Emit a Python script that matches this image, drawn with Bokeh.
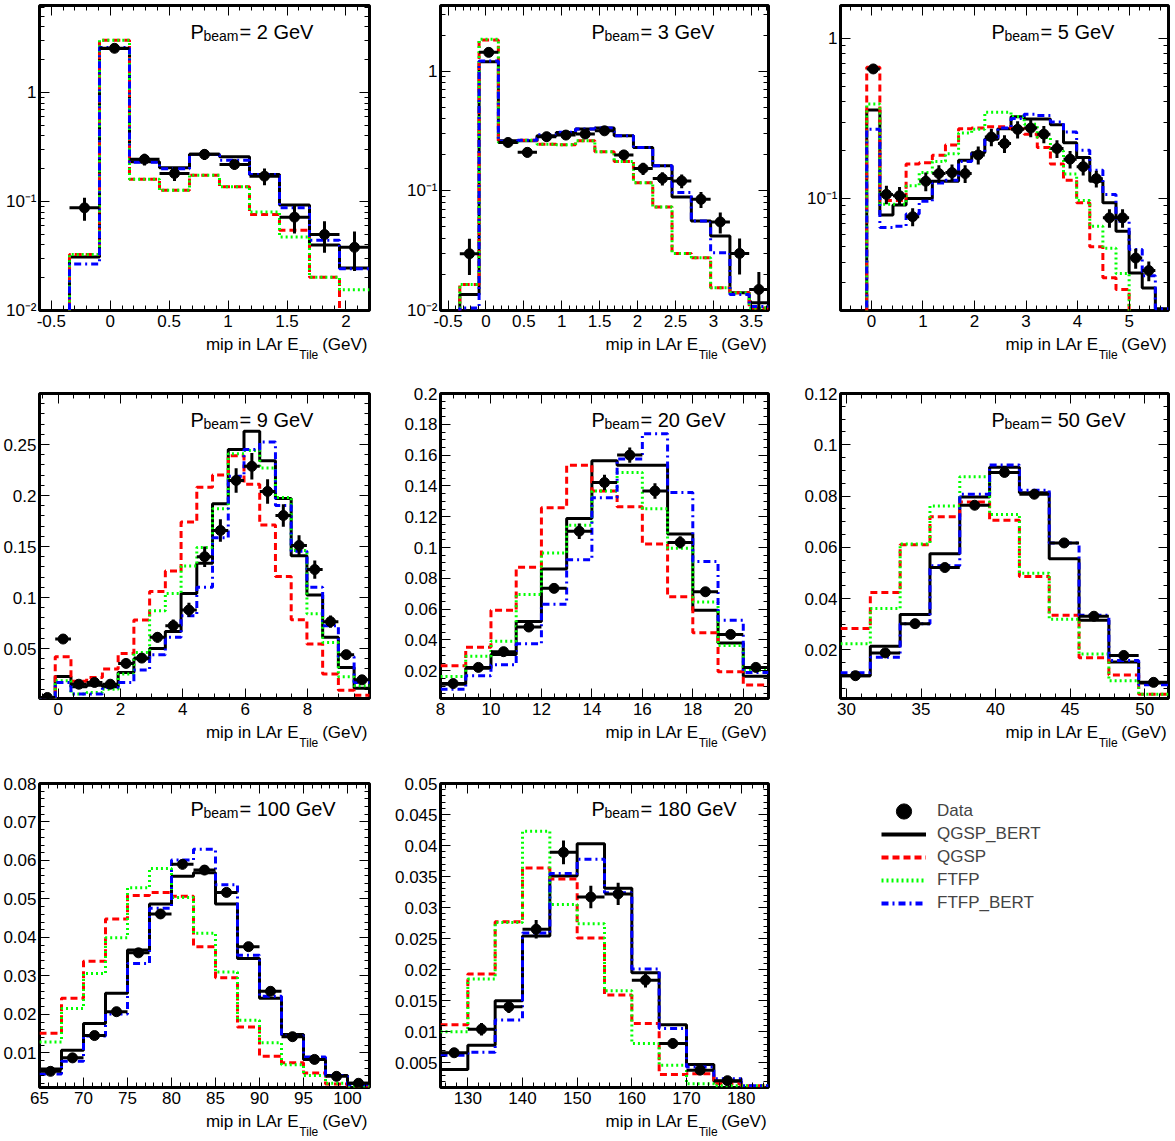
from bokeh.plotting import figure
from bokeh.layouts import gridplot
from bokeh.models import (Range1d, SingleIntervalTicker, FixedTicker, LinearAxis, LogAxis,
                          Label, Legend, LegendItem, CustomJSTickFormatter)
from bokeh.embed import file_html
from bokeh.resources import INLINE

FONT = "Liberation Sans"

# ---------------- data ----------------
BEAMS = ["2", "3", "5", "9", "20", "50", "100", "180"]
# histogram binning: first edge, bin width (number of bins = length of the series)
BIN_LO = [-0.6, -0.6, -0.6, -0.6, 8.0, 29.6, 65.0, 125.0]
BIN_W = [0.25454, 0.25454, 0.25454, 0.5048, 1.0, 2.0, 2.5, 5.0]
X_RANGE = [(-0.6, 2.2), (-0.6, 3.727), (-0.6, 5.764), (-0.6, 9.99),
           (8, 21), (29.6, 51.6), (65, 102.5), (125, 185)]
Y_RANGE = [(0.01, 6.3), (0.01, 3.55), (0.02, 1.6), (0.001, 0.3),
           (0.002, 0.2), (0.001, 0.12), (0.001, 0.08), (0.001, 0.05)]
Y_LOG = [True, True, True, False, False, False, False, False]
X_TITLE = ["mip in LAr E", "Tile", "(GeV)"]
LOG_TICKS = [1.0, 0.1, 0.01]
LOG_TICK_LABELS = ["1", "10\u207b\u00b9", "10\u207b\u00b2"]

# 2 GeV
QGSP_BERT_2 = [0, 0.031, 2.54, 0.232, 0.204, 0.271, 0.258, 0.177, 0.093, 0.040, 0.0245]
QGSP_2 = [0, 0.0326, 3.03, 0.16, 0.127, 0.174, 0.137, 0.076, 0.0546, 0.0202, 0]
FTFP_2 = [0, 0.0326, 3.03, 0.16, 0.127, 0.174, 0.137, 0.080, 0.0473, 0.0202, 0.0155]
FTFP_BERT_2 = [0, 0.0267, 2.6, 0.23, 0.2, 0.27, 0.239, 0.177, 0.0875, 0.0442, 0.0242]
DATA_2 = [None, 0.0875, 2.55, 0.244, 0.181, 0.271, 0.219, 0.171, 0.0719, 0.0498, 0.038]
ERR_2 = [None, 0.021, 0.06, 0.03, 0.027, 0.03, 0.022, 0.03, 0.021, 0.016, 0.015]

# 3 GeV
QGSP_BERT_3 = [0, 0.0136, 1.2, 0.263, 0.263, 0.289, 0.308, 0.329, 0.335, 0.289, 0.231,
               0.162, 0.0891, 0.0561, 0.042, 0.0141, 0.0116]
QGSP_3 = [0, 0.0165, 1.83, 0.254, 0.265, 0.246, 0.243, 0.263, 0.212, 0.176, 0.117,
          0.0734, 0.030, 0.0276, 0.0155, 0.0141, 0.0105]
FTFP_3 = [0, 0.0165, 1.85, 0.254, 0.265, 0.246, 0.243, 0.263, 0.212, 0.176, 0.117,
          0.0734, 0.030, 0.0276, 0.0155, 0.0141, 0.0105]
FTFP_BERT_3 = [0, 0.0105, 1.22, 0.26, 0.265, 0.295, 0.31, 0.33, 0.335, 0.289, 0.231,
               0.162, 0.097, 0.0561, 0.0304, 0.0136, 0.0108]
DATA_3 = [None, 0.0298, 1.44, 0.254, 0.21, 0.284, 0.293, 0.299, 0.318, 0.2, 0.154,
          0.127, 0.121, 0.085, 0.055, 0.030, 0.015]
ERR_3 = [None, 0.01, 0.06, 0.02, 0.02, 0.025, 0.025, 0.025, 0.025, 0.02, 0.018,
         0.016, 0.016, 0.013, 0.011, 0.01, 0.006]

# 5 GeV
QGSP_BERT_5 = [0, 0, 0.356, 0.079, 0.091, 0.10, 0.10, 0.128, 0.128, 0.173, 0.193, 0.234,
               0.272, 0.324, 0.313, 0.313, 0.288, 0.223, 0.18, 0.128, 0.094, 0.0625,
               0.0343, 0.0276, 0.0205]
QGSP_5 = [0, 0, 0.66, 0.097, 0.097, 0.164, 0.167, 0.186, 0.216, 0.272, 0.275, 0.28,
          0.28, 0.272, 0.252, 0.208, 0.164, 0.13, 0.094, 0.05, 0.032, 0.027, 0, 0, 0]
FTFP_5 = [0, 0, 0.388, 0.092, 0.092, 0.12, 0.145, 0.17, 0.19, 0.256, 0.27, 0.345,
          0.345, 0.325, 0.29, 0.24, 0.198, 0.142, 0.097, 0.067, 0.049, 0.034, 0, 0, 0]
FTFP_BERT_5 = [0, 0, 0.27, 0.066, 0.067, 0.08, 0.096, 0.125, 0.13, 0.17, 0.19, 0.24,
               0.275, 0.315, 0.335, 0.33, 0.30, 0.26, 0.20, 0.15, 0.106, 0.072, 0.048,
               0.033, 0.0205]
DATA_5 = [None, None, 0.643, 0.106, 0.104, 0.077, 0.128, 0.143, 0.145, 0.143, 0.187,
          0.242, 0.22, 0.27, 0.275, 0.252, 0.205, 0.176, 0.158, 0.133, 0.0757, 0.0757,
          0.0425, 0.0355, None]
ERR_5 = [None, None, 0.02, 0.014, 0.014, 0.01, 0.017, 0.018, 0.018, 0.018, 0.024, 0.03,
         0.028, 0.033, 0.034, 0.031, 0.026, 0.022, 0.019, 0.016, 0.01, 0.01, 0.006, 0.005,
         None]

# 9 GeV
QGSP_BERT_9 = [0, 0.0226, 0.0125, 0.014, 0.0125, 0.0265, 0.040, 0.050, 0.0668, 0.104,
               0.1336, 0.192, 0.245, 0.263, 0.234, 0.197, 0.141, 0.1025, 0.061, 0.0315,
               0.011]
QGSP_9 = [0, 0.042, 0.018, 0.0216, 0.0298, 0.045, 0.078, 0.106, 0.126, 0.174, 0.208,
          0.220, 0.239, 0.211, 0.171, 0.1205, 0.0783, 0.0544, 0.025, 0.0092, 0.0043]
FTFP_9 = [0, 0.0184, 0.0053, 0.0069, 0.010, 0.025, 0.046, 0.087, 0.104, 0.131, 0.149,
          0.187, 0.241, 0.244, 0.227, 0.198, 0.146, 0.084, 0.056, 0.0223, 0.0134]
FTFP_BERT_9 = [0, 0.0167, 0.0053, 0.0053, 0.0118, 0.0167, 0.029, 0.044, 0.061, 0.0822,
               0.110, 0.1585, 0.219, 0.245, 0.2525, 0.1903, 0.1454, 0.110, 0.0724, 0.042,
               0.0167]
DATA_9 = [0.002, 0.0593, 0.015, 0.0167, 0.015, 0.0354, 0.0406, 0.061, 0.0724, 0.0878,
          0.140, 0.1657, 0.2148, 0.2286, 0.204, 0.1804, 0.151, 0.1274, 0.0763, 0.044,
          0.0193]
ERR_9 = [0.001, 0.004, 0.003, 0.003, 0.003, 0.004, 0.004, 0.005, 0.006, 0.007, 0.01,
         0.011, 0.012, 0.013, 0.012, 0.011, 0.01, 0.009, 0.006, 0.004, 0.003]

# 20 GeV
QGSP_BERT_20 = [0.0113, 0.0217, 0.0305, 0.052, 0.086, 0.1188, 0.1564, 0.1535, 0.1535,
                0.1088, 0.0593, 0.0381, 0.0165]
QGSP_20 = [0.0233, 0.0353, 0.0593, 0.0872, 0.1258, 0.1535, 0.1367, 0.1265, 0.1023,
           0.068, 0.0447, 0.0193, 0.0108]
FTFP_20 = [0.0163, 0.0294, 0.0392, 0.0695, 0.0964, 0.1145, 0.1367, 0.1487, 0.1252,
           0.0996, 0.0647, 0.0364, 0.0204]
FTFP_BERT_20 = [0.008, 0.0167, 0.0239, 0.0375, 0.0632, 0.092, 0.1324, 0.1575, 0.1738,
                0.1357, 0.0909, 0.0528, 0.0189]
DATA_20 = [0.0117, 0.0222, 0.0324, 0.0484, 0.0735, 0.1106, 0.1422, 0.160, 0.1367,
           0.1033, 0.0713, 0.0436, 0.0222]
ERR_20 = [0.002, 0.002, 0.003, 0.003, 0.003, 0.005, 0.005, 0.005, 0.005, 0.004, 0.003,
          0.002, 0.002]

# 50 GeV
QGSP_BERT_50 = [0.0099, 0.0214, 0.0338, 0.0575, 0.0796, 0.0912, 0.0813, 0.0555, 0.0315,
                0.0152, 0.0070]
QGSP_50 = [0.0283, 0.0424, 0.061, 0.0719, 0.0777, 0.0705, 0.0486, 0.0335, 0.0169,
           0.0102, 0.0027]
FTFP_50 = [0.0224, 0.0361, 0.0613, 0.0761, 0.0875, 0.0728, 0.0499, 0.0319, 0.0184,
           0.0079, 0.0027]
FTFP_BERT_50 = [0.011, 0.0171, 0.0302, 0.0528, 0.0807, 0.0921, 0.0823, 0.0617, 0.0335,
                0.0158, 0.0064]
DATA_50 = [0.0099, 0.0188, 0.0302, 0.0521, 0.0764, 0.0892, 0.0807, 0.0617, 0.0331,
           0.0178, 0.0073]
ERR_50 = [0.0006, 0.0008, 0.001, 0.001, 0.0012, 0.0012, 0.0012, 0.001, 0.0008, 0.0006,
          0.0005]

# 100 GeV
QGSP_BERT_100 = [0.0058, 0.0107, 0.0176, 0.0255, 0.0367, 0.0487, 0.0559, 0.0568, 0.0487,
                 0.0345, 0.0242, 0.0148, 0.0083, 0.0041, 0.0021]
QGSP_100 = [0.0151, 0.0242, 0.0338, 0.0448, 0.0509, 0.0517, 0.0507, 0.0376, 0.0295,
            0.0167, 0.0091, 0.0074, 0.0048, 0.0019, 0.0013]
FTFP_100 = [0.0128, 0.0215, 0.0306, 0.0399, 0.0529, 0.0579, 0.0504, 0.0411, 0.031,
            0.0185, 0.0126, 0.0069, 0.0041, 0.0021, 0.0013]
FTFP_BERT_100 = [0.0045, 0.0078, 0.0144, 0.0201, 0.0332, 0.0476, 0.0601, 0.0629, 0.0537,
                 0.0354, 0.0247, 0.0144, 0.0089, 0.0041, 0.0017]
DATA_100 = [0.0052, 0.0087, 0.0145, 0.0207, 0.036, 0.0461, 0.059, 0.0575, 0.0517, 0.0376,
            0.026, 0.0142, 0.0083, 0.0039, 0.0021]
ERR_100 = [0.0005, 0.0006, 0.0008, 0.0009, 0.0011, 0.0012, 0.0013, 0.0013, 0.0012,
           0.0011, 0.0009, 0.0007, 0.0005, 0.0004, 0.0003]

# 180 GeV
QGSP_BERT_180 = [0.0039, 0.0078, 0.015, 0.0254, 0.0351, 0.0403, 0.0331, 0.0195, 0.0111,
                 0.0047, 0.0020, 0]
QGSP_180 = [0.0111, 0.0193, 0.0277, 0.0364, 0.0346, 0.0251, 0.0159, 0.0113, 0.0031,
            0.0032, 0.0016, 0.0013]
FTFP_180 = [0.010, 0.0185, 0.0276, 0.0423, 0.0305, 0.0274, 0.0166, 0.0081, 0.0046,
            0.0016, 0.0013, 0.0013]
FTFP_BERT_180 = [0.0062, 0.0067, 0.0119, 0.0259, 0.0355, 0.0378, 0.0324, 0.0201, 0.0105,
                 0.0043, 0.0024, 0.0013]
DATA_180 = [0.0066, 0.0104, 0.014, 0.0265, 0.0389, 0.0317, 0.0322, 0.0183, 0.0081,
            0.0038, 0.0021, None]
ERR_180 = [0.0006, 0.001, 0.001, 0.0015, 0.0019, 0.0018, 0.0018, 0.0012, 0.0008, 0.0005,
           0.0004, None]

QGSP_BERT = [QGSP_BERT_2, QGSP_BERT_3, QGSP_BERT_5, QGSP_BERT_9, QGSP_BERT_20,
             QGSP_BERT_50, QGSP_BERT_100, QGSP_BERT_180]
QGSP = [QGSP_2, QGSP_3, QGSP_5, QGSP_9, QGSP_20, QGSP_50, QGSP_100, QGSP_180]
FTFP = [FTFP_2, FTFP_3, FTFP_5, FTFP_9, FTFP_20, FTFP_50, FTFP_100, FTFP_180]
FTFP_BERT = [FTFP_BERT_2, FTFP_BERT_3, FTFP_BERT_5, FTFP_BERT_9, FTFP_BERT_20,
             FTFP_BERT_50, FTFP_BERT_100, FTFP_BERT_180]
DATA = [DATA_2, DATA_3, DATA_5, DATA_9, DATA_20, DATA_50, DATA_100, DATA_180]
ERR = [ERR_2, ERR_3, ERR_5, ERR_9, ERR_20, ERR_50, ERR_100, ERR_180]

# tick intervals (major, minor subdivisions)
X_TICK = [(0.5, 5), (0.5, 5), (1, 5), (2, 4), (2, 4), (5, 5), (5, 5), (10, 5)]
Y_TICK = [None, None, None, (0.05, 5), (0.02, 4), (0.02, 4), (0.01, 5), (0.005, 5)]

SERIES_STYLE = [
    ("QGSP_BERT", "black", "solid"),
    ("QGSP", "#ff0000", "7 4"),
    ("FTFP", "#00ff00", "2 3"),
    ("FTFP_BERT", "#0000ff", "7 4 2 4"),
]

# ---------------- layout ----------------
COL_W = [391, 410, 374]
COL_MBL = [39, 47, 37]
COL_MBR = [22, 33, 7]
ROW_H = [381, 390, 370]
ROW_MBT = [5, 12, 12]
ROW_MBB = [71, 73, 53]
FW = 330
FH = 305

fmt_js = "return String(Number(tick.toFixed(6)));"


def lab(p, x, y, text, size):
    p.add_layout(Label(x=x, y=y, x_units="screen", y_units="screen", text=text,
                       text_font=FONT, text_font_size=f"{size}px", text_align="left",
                       text_baseline="alphabetic", text_color="black"))


def style_axis(ax, show_labels, standoff, ticks=True):
    ax.axis_line_color = None
    ax.major_tick_out = 0
    ax.minor_tick_out = 0
    if ticks:
        ax.major_tick_in = 10
        ax.minor_tick_in = 5
        ax.major_tick_line_color = "black"
        ax.minor_tick_line_color = "black"
    else:
        ax.major_tick_in = 0
        ax.minor_tick_in = 0
        ax.major_tick_line_color = None
        ax.minor_tick_line_color = None
    ax.major_tick_line_width = 1
    ax.minor_tick_line_width = 1
    ax.major_label_text_font = FONT
    ax.major_label_text_color = "black"
    if show_labels:
        ax.major_label_text_font_size = "17px"
        ax.major_label_standoff = standoff
    else:
        ax.major_label_text_font_size = "0px"
        ax.major_label_standoff = 0
        ax.formatter = CustomJSTickFormatter(code="return '';")


def text_axis(p, xr, centers_px, labels, size, standoff):
    """An extra tickless axis below the frame used to write the axis title pieces."""
    xs = [xr[0] + c * (xr[1] - xr[0]) / FW for c in centers_px]
    ax = LinearAxis(ticker=FixedTicker(ticks=xs, minor_ticks=[]),
                    formatter=CustomJSTickFormatter(args=dict(labels=labels),
                                                    code="return labels[index];"))
    style_axis(ax, True, standoff, ticks=False)
    ax.major_label_text_font_size = f"{size}px"
    p.add_layout(ax, "below")


def make_panel(i, col, row):
    log = Y_LOG[i]
    p = figure(width=COL_W[col], height=ROW_H[row], toolbar_location=None,
               output_backend="svg",
               x_range=Range1d(*X_RANGE[i]), y_range=Range1d(*Y_RANGE[i]),
               y_axis_type="log" if log else "linear",
               min_border_left=COL_MBL[col], min_border_right=COL_MBR[col],
               min_border_top=ROW_MBT[row], min_border_bottom=ROW_MBB[row])
    p.xgrid.visible = False
    p.ygrid.visible = False
    p.outline_line_color = "black"
    p.outline_line_width = 3
    p.background_fill_color = "white"
    p.border_fill_color = "white"

    xt = SingleIntervalTicker(interval=X_TICK[i][0], num_minor_ticks=X_TICK[i][1])
    if log:
        lo, hi = Y_RANGE[i]
        majors = [m for m in LOG_TICKS if lo <= m <= hi]
        minors = [k * 10.0 ** e for e in (-2, -1, 0) for k in range(2, 10)
                  if lo <= k * 10.0 ** e <= hi]
        yt = FixedTicker(ticks=majors, minor_ticks=minors)
    else:
        yt = SingleIntervalTicker(interval=Y_TICK[i][0], num_minor_ticks=Y_TICK[i][1])

    p.xaxis.ticker = xt
    p.xaxis.formatter = CustomJSTickFormatter(code=fmt_js)
    p.yaxis.ticker = yt
    for ax in p.xaxis:
        style_axis(ax, True, 4)
    for ax in p.yaxis:
        if log:
            ax.formatter = CustomJSTickFormatter(
                args=dict(vals=LOG_TICKS, labs=LOG_TICK_LABELS),
                code="for (let k = 0; k < vals.length; k++) {"
                     " if (Math.abs(tick - vals[k]) < 1e-6 * vals[k]) return labs[k]; }"
                     " return '';")
        else:
            ax.formatter = CustomJSTickFormatter(code=fmt_js)
        style_axis(ax, True, 3)

    top = LinearAxis(ticker=xt)
    style_axis(top, False, 0)
    p.add_layout(top, "above")
    right = LogAxis(ticker=yt) if log else LinearAxis(ticker=yt)
    style_axis(right, False, 0)
    p.add_layout(right, "right")

    # x-axis title "mip in LAr E_Tile (GeV)" written as tick labels of extra axes
    text_axis(p, X_RANGE[i], [FW - 71 - 46.3, FW - 2 - 22.7], [X_TITLE[0], X_TITLE[2]], 17, 5)
    text_axis(p, X_RANGE[i], [FW - 51 - 9.7], [X_TITLE[1]], 12, -9)

    # histograms
    n = len(QGSP_BERT[i])
    edges = [BIN_LO[i] + BIN_W[i] * k for k in range(n + 1)]
    floor = Y_RANGE[i][0] * 1e-3
    for series, (name, color, dash) in zip((QGSP_BERT, QGSP, FTFP, FTFP_BERT), SERIES_STYLE):
        vals = list(series[i])
        if log:
            vals = [v if v > 0 else floor for v in vals]
        vals = vals + [vals[-1]]
        p.step(x=edges, y=vals, mode="after", line_color=color, line_width=3,
               line_dash=dash)

    # data with error bars
    xs, ys, es, x0, x1 = [], [], [], [], []
    for k, (v, e) in enumerate(zip(DATA[i], ERR[i])):
        if v is None:
            continue
        c = BIN_LO[i] + BIN_W[i] * (k + 0.5)
        xs.append(c)
        ys.append(v)
        es.append(e)
        x0.append(c - BIN_W[i] / 2)
        x1.append(c + BIN_W[i] / 2)
    p.segment(x0=xs, y0=[y - e for y, e in zip(ys, es)], x1=xs,
              y1=[y + e for y, e in zip(ys, es)], line_color="black", line_width=3)
    p.segment(x0=x0, y0=ys, x1=x1, y1=ys, line_color="black", line_width=3)
    p.scatter(x=xs, y=ys, size=10, marker="circle", fill_color="black",
              line_color="black")

    # title P_beam = X GeV
    lab(p, 151, FH - 26, "P", 20)
    lab(p, 164, FH - 30, "beam", 14)
    lab(p, 200, FH - 26, "= " + BEAMS[i] + " GeV", 20)
    return p


panels = []
for i in range(8):
    row, col = divmod(i, 3)
    panels.append(make_panel(i, col, row))

# legend panel (bottom-right cell)
leg = figure(width=COL_W[2], height=ROW_H[2], toolbar_location=None, output_backend="svg",
             x_range=Range1d(0, 1), y_range=Range1d(0, 1),
             x_axis_location=None, y_axis_location=None,
             min_border_left=COL_MBL[2], min_border_right=COL_MBR[2],
             min_border_top=ROW_MBT[2], min_border_bottom=ROW_MBB[2])
leg.xgrid.visible = False
leg.ygrid.visible = False
leg.outline_line_color = None
nan = float("nan")
r_data = leg.scatter(x=[nan], y=[nan], marker="circle", fill_color="black",
                     line_color="black")
line_rs = []
for name, color, dash in SERIES_STYLE:
    r = leg.line(x=[nan, nan], y=[nan, nan], line_color=color, line_width=4, line_dash=dash)
    line_rs.append((name, r))

legD = Legend(items=[LegendItem(label="Data", renderers=[r_data])], location=(41, 257),
              glyph_width=45, glyph_height=38, label_height=38, padding=0, margin=0,
              spacing=0, label_standoff=11, border_line_color=None,
              background_fill_alpha=0, label_text_font=FONT, label_text_font_size="17px")
legL = Legend(items=[LegendItem(label=nm, renderers=[r]) for nm, r in line_rs],
              location=(41, 174), glyph_width=45, glyph_height=20, label_height=20,
              padding=0, margin=0, spacing=3, label_standoff=11, border_line_color=None,
              background_fill_alpha=0, label_text_font=FONT, label_text_font_size="17px")
leg.add_layout(legD)
leg.add_layout(legL)

grid = gridplot([panels[0:3], panels[3:6], [panels[6], panels[7], leg]],
                toolbar_location=None)

open("out.html", "w").write(file_html(grid, INLINE))
